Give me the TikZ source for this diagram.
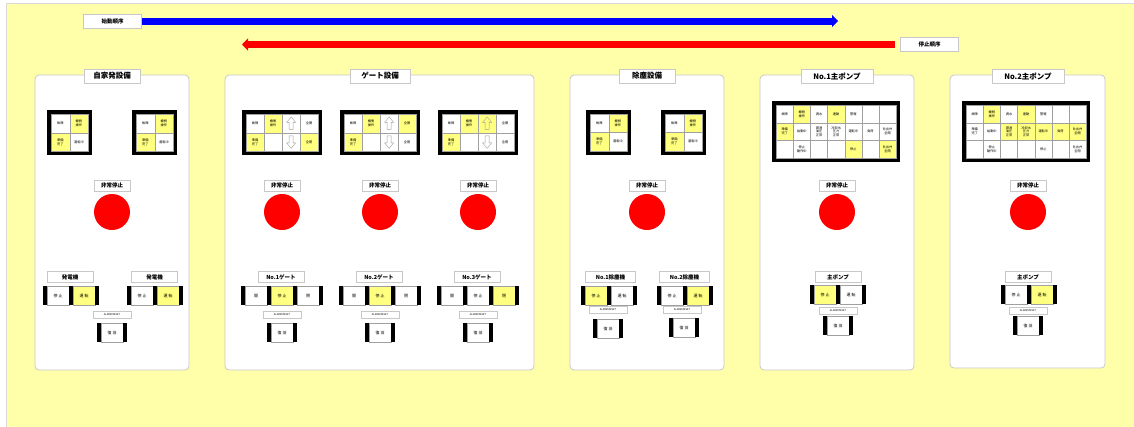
\documentclass[tikz,border=0pt]{standalone}
\usepackage{fontspec}
\setmainfont{Noto Sans CJK JP}
\usetikzlibrary{arrows.meta}
\definecolor{bgy}{HTML}{FFFFAA}
\definecolor{cy}{HTML}{FFFF80}
\definecolor{pborder}{HTML}{C8C8C8}
\definecolor{gridc}{HTML}{A0A0A0}
\tikzset{
 panel/.style={draw=pborder, fill=white, rounded corners=4pt, line width=0.8pt},
 title/.style={draw=pborder, fill=white, minimum height=14pt, inner sep=0, font=\fontsize{7.5}{8}\selectfont\bfseries, line width=0.8pt},
 tag/.style={draw=pborder, fill=white, minimum height=11pt, inner sep=0, font=\fontsize{5.5}{6}\selectfont\bfseries, line width=0.6pt},
 rst/.style={draw=pborder, fill=white, minimum width=38pt, minimum height=7pt, inner sep=0, font=\fontsize{2.5}{3}\selectfont, line width=0.5pt},
 cel/.style={draw=gridc, line width=0.3pt, inner sep=0, align=center, font=\fontsize{3.2}{3.8}\selectfont, anchor=north west},
 btn/.style={draw=gridc, line width=0.3pt, inner sep=0, minimum width=22pt, minimum height=19pt, anchor=north west, font=\fontsize{4}{5}\selectfont},
 estop/.style={circle, fill=red, minimum size=36pt, inner sep=0},
 seq/.style={line width=7pt, -{Triangle[width=12pt,length=6pt]}},
 uarr/.pic={\draw[gridc, line width=0.4pt] (-2,6)--(-2,-1)--(-4.5,-1)--(0,-6.5)--(4.5,-1)--(2,-1)--(2,6)--cycle;},
 darr/.pic={\draw[gridc, line width=0.4pt] (-2,-6)--(-2,1)--(-4.5,1)--(0,6.5)--(4.5,1)--(2,1)--(2,-6)--cycle;},
}
\newcommand\igrid[8]{%
 \fill[black] (#2,#3) rectangle ++({#4*#6+8},{#5*#7+8});
 \foreach \cc/\rr/\fc/\tx [count=\k] in {#8} {
   \node[cel, fill=\fc, minimum width=#6pt, minimum height=#7pt] (#1-\k) at ({#2+4+\cc*#6},{#3+4+\rr*#7}) {\tx};
 }%
}
\newcommand\btnrow[4]{%
 \foreach \fc/\tx [count=\k] in {#4} {
   \node[btn, fill=\fc] (#1-\k) at ({#2+4+(\k-1)*26},#3) {\tx};
   \fill[black] ({#2+(\k-1)*26},#3) rectangle ++(4,19);
   \fill[black] ({#2+\k*26},#3) rectangle ++(4,19);
 }%
}
\newcommand\twoind[3]{\igrid{#1}{#2}{#3}{2}{2}{18.5}{18.5}{0/0/white/故障, 1/0/cy/機側\\操作, 0/1/cy/準備\\完了, 1/1/white/運転中}}
\begin{document}
\begin{tikzpicture}[x=1pt,y=-1pt]
\useasboundingbox (0,0) rectangle (1134,426);
\fill[white] (0,0) rectangle (1134,426);
\draw[fill=bgy, draw=black!15] (6,3) rectangle (1140,430);

% sequence arrows
\node[tag, minimum width=58pt, minimum height=14pt] (start) at (112.5,21) {始動順序};
\coordinate (startend) at (838,21);
\draw[seq, blue] (start.east) -- (startend);
\node[tag, minimum width=58pt, minimum height=14pt] (stop) at (929.5,44.5) {停止順序};
\coordinate (stopbeg) at (895,44.5);
\coordinate (stopend) at (242,44.5);
\draw[seq, red] (stopbeg) -- (stopend);

% panel 1
\draw[panel] (35,75) rectangle (189,370);
\node[title, minimum width=56pt] (t1) at (112,76) {自家発設備};
\twoind{i1}{47}{110}
\twoind{i2}{132}{110}
\node[tag, minimum width=36pt] (e1l) at (112,185.5) {非常停止};
\node[estop] (e1) at (112,212) {};
\node[tag, minimum width=46pt] (g1l) at (70,277) {発電機};
\btnrow{g1b}{43}{286}{white/停 止, cy/運 転}
\node[tag, minimum width=46pt] (g2l) at (154.5,277) {発電機};
\btnrow{g2b}{127}{286}{white/停 止, cy/運 転}
\node[rst] (r1l) at (112,314.5) {ALARM RESET};
\btnrow{r1b}{97}{323}{white/復 旧}

% panel 2
\draw[panel] (225,75) rectangle (534,370);
\node[title, minimum width=60pt] (t2) at (380,76) {ゲート設備};
\igrid{ga}{242}{110}{4}{2}{18}{18.5}{0/0/white/故障, 1/0/cy/機側\\操作, 2/0/white/{}, 3/0/white/全開, 0/1/cy/準備\\完了, 1/1/white/{}, 2/1/white/{}, 3/1/cy/全閉}
\igrid{gb}{340}{110}{4}{2}{18}{18.5}{0/0/white/故障, 1/0/cy/機側\\操作, 2/0/white/{}, 3/0/cy/全開, 0/1/cy/準備\\完了, 1/1/white/{}, 2/1/white/{}, 3/1/white/全閉}
\igrid{gc}{438}{110}{4}{2}{18}{18.5}{0/0/white/故障, 1/0/cy/機側\\操作, 2/0/cy/{}, 3/0/white/全開, 0/1/cy/準備\\完了, 1/1/white/{}, 2/1/white/{}, 3/1/white/全閉}
\pic at (ga-3) {uarr}; \pic at (ga-7) {darr};
\pic at (gb-3) {uarr}; \pic at (gb-7) {darr};
\pic at (gc-3) {uarr}; \pic at (gc-7) {darr};
\foreach \x/\n in {282/a, 380/b, 478/c} {
  \node[tag, minimum width=36pt] (e2\n l) at (\x,185.5) {非常停止};
  \node[estop] (e2\n) at (\x,212) {};
  \node[rst] (r2\n l) at (\x,314.5) {ALARM RESET};
}
\node[tag, minimum width=46pt] (gt1) at (281,277) {No.1ゲート};
\node[tag, minimum width=46pt] (gt2) at (379,277) {No.2ゲート};
\node[tag, minimum width=46pt] (gt3) at (477,277) {No.3ゲート};
\btnrow{gab}{241}{286}{white/開, cy/停 止, white/閉}
\btnrow{gbb}{339}{286}{white/開, cy/停 止, white/閉}
\btnrow{gcb}{437}{286}{white/開, white/停 止, cy/閉}
\btnrow{grab}{267}{323}{white/復 旧}
\btnrow{grbb}{365}{323}{white/復 旧}
\btnrow{grcb}{463}{323}{white/復 旧}

% panel 3
\draw[panel] (570,75) rectangle (724,370);
\node[title, minimum width=56pt] (t3) at (647,76) {除塵設備};
\twoind{d1}{586}{109.5}
\twoind{d2}{661}{109.5}
\node[tag, minimum width=36pt] (e3l) at (647,185.5) {非常停止};
\node[estop] (e3) at (647,212) {};
\node[tag, minimum width=50pt] (dl1) at (610.5,277) {No.1除塵機};
\node[tag, minimum width=50pt] (dl2) at (684.5,277) {No.2除塵機};
\btnrow{db1}{581}{286}{cy/停 止, white/運 転}
\btnrow{db2}{657}{286}{white/停 止, cy/運 転}
\node[rst] (dr1l) at (608,310) {ALARM RESET};
\node[rst] (dr2l) at (682,310) {ALARM RESET};
\btnrow{dr1}{593}{319}{white/復 旧}
\btnrow{dr2}{669}{318}{white/復 旧}

% panel 4
\draw[panel] (760,75) rectangle (914,370);
\node[title, minimum width=72pt] (t4) at (837,76) {No.1主ポンプ};
\igrid{p1}{772}{101}{7}{3}{17.143}{17.667}{0/0/white/故障, 1/0/cy/機側\\操作, 2/0/white/満水, 3/0/cy/連動, 4/0/white/警報, 5/0/white/{}, 6/0/white/{}, 0/1/cy/準備\\完了, 1/1/white/始動中, 2/1/white/潤滑\\油圧\\正常, 3/1/white/冷却水\\圧力\\正常, 4/1/white/運転中, 5/1/white/負荷, 6/1/white/吐出弁\\全開, 0/2/white/{}, 1/2/white/停止\\動作中, 2/2/white/{}, 3/2/white/{}, 4/2/cy/停止, 5/2/white/{}, 6/2/cy/吐出弁\\全閉}
\node[tag, minimum width=36pt] (e4l) at (837,185.5) {非常停止};
\node[estop] (e4) at (837,212) {};
\node[tag, minimum width=46pt] (pl1) at (838,277) {主ポンプ};
\btnrow{pb1}{810}{285}{cy/停 止, white/運 転}
\node[rst] (pr1l) at (838,311) {ALARM RESET};
\btnrow{pr1}{823}{316}{white/復 旧}

% panel 5
\draw[panel] (950,75) rectangle (1105,368);
\node[title, minimum width=72pt] (t5) at (1028,76) {No.2主ポンプ};
\igrid{p2}{962}{101}{7}{3}{17.143}{17.667}{0/0/white/故障, 1/0/cy/機側\\操作, 2/0/white/満水, 3/0/cy/連動, 4/0/white/警報, 5/0/white/{}, 6/0/white/{}, 0/1/white/準備\\完了, 1/1/white/始動中, 2/1/cy/潤滑\\油圧\\正常, 3/1/cy/冷却水\\圧力\\正常, 4/1/cy/運転中, 5/1/cy/負荷, 6/1/cy/吐出弁\\全開, 0/2/white/{}, 1/2/white/停止\\動作中, 2/2/white/{}, 3/2/white/{}, 4/2/white/停止, 5/2/white/{}, 6/2/white/吐出弁\\全閉}
\node[tag, minimum width=36pt] (e5l) at (1028,185.5) {非常停止};
\node[estop] (e5) at (1028,212) {};
\node[tag, minimum width=46pt] (pl2) at (1028,277) {主ポンプ};
\btnrow{pb2}{1001}{285}{white/停 止, cy/運 転}
\node[rst] (pr2l) at (1028,311) {ALARM RESET};
\btnrow{pr2}{1013}{316}{white/復 旧}
\end{tikzpicture}
\end{document}
